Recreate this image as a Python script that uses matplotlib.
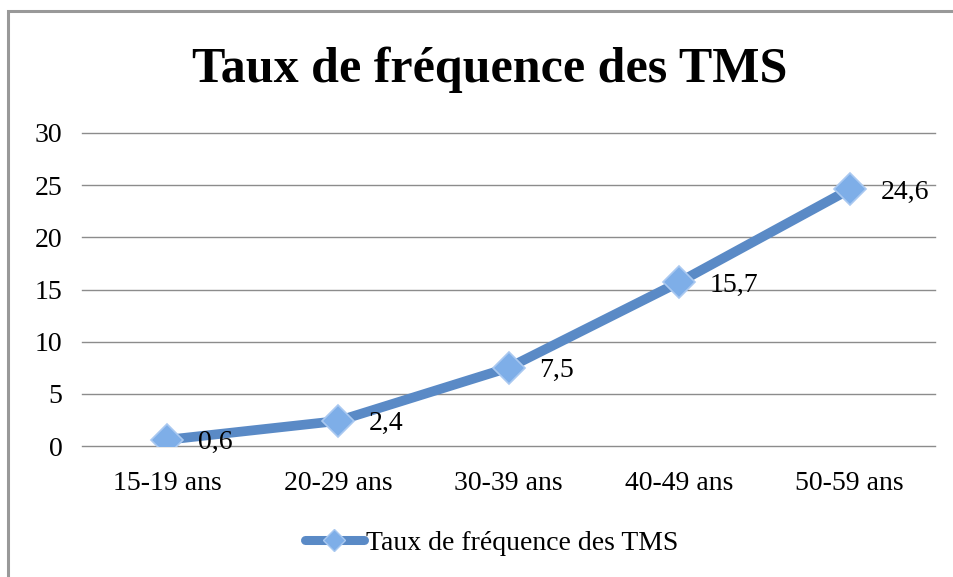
import matplotlib
matplotlib.use("Agg")
import matplotlib.pyplot as plt
from matplotlib.lines import Line2D
from matplotlib.patches import Rectangle

categories = ["15-19 ans", "20-29 ans", "30-39 ans", "40-49 ans", "50-59 ans"]
values = [0.6, 2.4, 7.5, 15.7, 24.6]
labels = ["0,6", "2,4", "7,5", "15,7", "24,6"]
series_name = "Taux de fréquence des TMS"
y_ticks = [0, 5, 10, 15, 20, 25, 30]

W, H = 954, 577
plt.rcParams['font.family'] = ['Liberation Serif', 'DejaVu Serif']

fig = plt.figure(figsize=(W / 100, H / 100), dpi=100)

# outer chart border, only the left and top edges fall inside the picture
fig.add_artist(Rectangle((8.5 / W, -0.1), 1.2, 1.1 - 10.5 / H,
                         transform=fig.transFigure, fill=False,
                         edgecolor='#999999', linewidth=2.2))

ax = fig.add_axes([82 / W, 1 - 446 / H, (935 - 82) / W, (446 - 133) / H])

line_color = '#5A8AC6'
x = list(range(len(categories)))
ax.plot(x, values, color=line_color, linewidth=7, solid_capstyle='round',
        marker='D', markersize=16, markerfacecolor='#7EAEE8',
        markeredgecolor='#A9C8F0', markeredgewidth=1.2, zorder=3)

for xi, v, lab in zip(x, values, labels):
    ax.annotate(lab, (xi, v), xytext=(22, -2), textcoords='offset points',
                ha='left', va='center', fontsize=20)

ax.set_xlim(-0.5, len(categories) - 0.5)
ax.set_ylim(0, 30)
ax.set_yticks(y_ticks)
ax.set_yticklabels([str(t) for t in y_ticks], fontsize=20)
ax.set_xticks(x)
ax.set_xticklabels(categories, fontsize=20)
ax.tick_params(axis='both', length=0)
ax.tick_params(axis='x', pad=18)
ax.tick_params(axis='y', pad=14)
ax.grid(axis='y', color='#8C8C8C', linewidth=1)
for gl in ax.get_ygridlines():
    gl.set_clip_on(False)
ax.set_axisbelow(True)
for s in ax.spines.values():
    s.set_visible(False)

fig.text(490 / W, 1 - 70 / H, "Taux de fréquence des TMS", ha='center',
         va='center', fontsize=36, fontweight='bold')

handle = Line2D([0], [0], color=line_color, linewidth=6.5, solid_capstyle='round',
                marker='D', markersize=11, markerfacecolor='#7EAEE8',
                markeredgecolor='#A9C8F0')
fig.legend([handle], [series_name], loc='center', bbox_to_anchor=(492 / W, 1 - 543 / H),
           frameon=False, fontsize=20, handlelength=2.1, handletextpad=0.1)

fig.savefig("out.png", dpi=100)
